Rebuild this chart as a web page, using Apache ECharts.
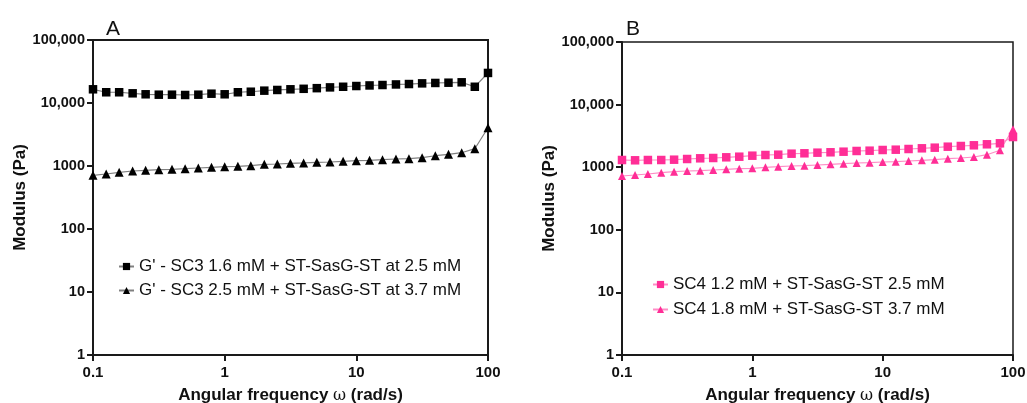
<!DOCTYPE html>
<html>
<head>
<meta charset="utf-8">
<script src="https://cdn.jsdelivr.net/npm/echarts@6/dist/echarts.min.js"></script>
<style>
html,body{margin:0;padding:0;background:#fff;}
#chart{width:1027px;height:403px;}
</style>
</head>
<body>
<div id="chart"></div>
<script>
// Angular frequency (rad/s)
var freq = [0.1, 0.126, 0.158, 0.2, 0.251, 0.316, 0.398, 0.501, 0.631, 0.794,
            1, 1.26, 1.58, 2, 2.51, 3.16, 3.98, 5.01, 6.31, 7.94,
            10, 12.6, 15.8, 20, 25.1, 31.6, 39.8, 50.1, 63.1, 79.4, 100];

// Panel A
var aSquare = [16500, 14800, 14800, 14250, 13750, 13550, 13550, 13400, 13550, 14050,
               13750, 14800, 15100, 15700, 16100, 16500, 16800, 17200, 17700, 18100,
               18600, 19000, 19300, 19700, 20000, 20500, 20800, 21000, 21300, 18100, 30000];
var aTriangle = [711, 747, 794, 833, 855, 874, 887, 907, 929, 953,
                 975, 989, 1011, 1064, 1076, 1104, 1117, 1145, 1157, 1188,
                 1214, 1231, 1259, 1291, 1305, 1354, 1456, 1534, 1626, 1882, 4055];
// Panel B
var bSquare = [1303, 1289, 1303, 1303, 1318, 1352, 1387, 1403, 1439, 1471,
               1527, 1566, 1584, 1644, 1668, 1706, 1731, 1769, 1816, 1836,
               1883, 1904, 1953, 2004, 2050, 2126, 2181, 2238, 2322, 2410, 3035];
var bTriangle = [723, 750, 778, 817, 847, 869, 879, 902, 925, 946,
                 960, 996, 1019, 1045, 1057, 1084, 1112, 1137, 1167, 1180,
                 1211, 1224, 1256, 1289, 1318, 1367, 1403, 1455, 1584, 1862, 4030];

var seriesNames = [
  "G' - SC3 1.6 mM + ST-SasG-ST at 2.5 mM",
  "G' - SC3 2.5 mM + ST-SasG-ST at 3.7 mM",
  "SC4 1.2 mM + ST-SasG-ST 2.5 mM",
  "SC4 1.8 mM + ST-SasG-ST 3.7 mM"
];
var panelTitles = ['A', 'B'];
var xTickLabels = ['0.1', '1', '10', '100'];     // 10^-1 .. 10^2
var yTickLabels = ['1', '10', '100', '1000', '10,000', '100,000']; // 10^0 .. 10^5

function pairs(xs, ys) { return xs.map(function (x, i) { return [x, ys[i]]; }); }

var FONT = 'Liberation Sans, Arial, Helvetica, sans-serif';
var AX = '#1a1a1a';
var PINK = '#FF2E96';
var PINK_LINE = '#FF8CC6';

function xAxisCfg(gi) {
  return {
    type: 'log', logBase: 10, gridIndex: gi, min: 0.1, max: 100,
    name: 'Angular frequency {w|ω} (rad/s)',
    nameLocation: 'middle', nameGap: 32,
    nameTextStyle: { fontFamily: FONT, fontSize: 17, fontWeight: 'bold', color: '#111',
      rich: { w: { fontFamily: 'DejaVu Serif, Liberation Serif, serif', fontSize: 16, fontWeight: 'normal', color: '#111' } } },
    axisLine: { show: true, lineStyle: { color: AX, width: 2 } },
    axisTick: { show: true, length: 6, lineStyle: { color: AX, width: 2 } },
    minorTick: { show: false },
    splitLine: { show: false },
    axisLabel: { margin: 10, fontFamily: FONT, fontSize: 15, fontWeight: 'bold', color: '#111',
      formatter: function (v) { var k = Math.round(Math.log10(v)) + 1; return xTickLabels[k] || ''; } }
  };
}
function yAxisCfg(gi, gap) {
  return {
    type: 'log', logBase: 10, gridIndex: gi, min: 1, max: 100000,
    name: 'Modulus (Pa)', nameLocation: 'middle', nameGap: gap, nameRotate: 90,
    nameTextStyle: { fontFamily: FONT, fontSize: 17, fontWeight: 'bold', color: '#111' },
    axisLine: { show: true, lineStyle: { color: AX, width: 2 } },
    axisTick: { show: true, length: 6, lineStyle: { color: AX, width: 2 } },
    minorTick: { show: false },
    splitLine: { show: false },
    axisLabel: { margin: 8, fontFamily: FONT, fontSize: 14.5, fontWeight: 'bold', color: '#111',
      formatter: function (v) { var k = Math.round(Math.log10(v)); return yTickLabels[k] || ''; } }
  };
}
function lineSeries(name, data, xi, sym, size, color, lineColor) {
  return {
    name: name, type: 'line', xAxisIndex: xi, yAxisIndex: xi, data: data,
    symbol: sym, symbolSize: size, showAllSymbol: true,
    itemStyle: { color: color },
    lineStyle: { color: lineColor, width: 1.2 },
    emphasis: { disabled: true }
  };
}

var chart = echarts.init(document.getElementById('chart'), null, { renderer: 'canvas' });
chart.setOption({
  animation: false,
  backgroundColor: '#fff',
  title: [
    { text: panelTitles[0], left: 101, top: 14, textStyle: { fontFamily: FONT, fontSize: 21, fontWeight: 'normal', color: '#111' } },
    { text: panelTitles[1], left: 621, top: 14, textStyle: { fontFamily: FONT, fontSize: 21, fontWeight: 'normal', color: '#111' } }
  ],
  grid: [
    { left: 93, top: 40, width: 395, height: 315, outerBoundsMode: 'none', containLabel: false,
      show: true, borderColor: AX, borderWidth: 2, backgroundColor: 'transparent' },
    { left: 622, top: 42, width: 391, height: 313, outerBoundsMode: 'none', containLabel: false,
      show: true, borderColor: AX, borderWidth: 1.5, backgroundColor: 'transparent' }
  ],
  xAxis: [xAxisCfg(0), xAxisCfg(1)],
  yAxis: [yAxisCfg(0, 59), yAxisCfg(1, 60)],
  legend: [
    { data: [seriesNames[0], seriesNames[1]], orient: 'vertical', left: 113, top: 253,
      itemWidth: 15, itemHeight: 9, itemGap: 7, selectedMode: false,
      textStyle: { fontFamily: FONT, fontSize: 17, color: '#111', lineHeight: 17 } },
    { data: [seriesNames[2], seriesNames[3]], orient: 'vertical', left: 647, top: 271,
      itemWidth: 15, itemHeight: 9, itemGap: 8, selectedMode: false,
      textStyle: { fontFamily: FONT, fontSize: 17, color: '#111', lineHeight: 17 } }
  ],
  series: [
    lineSeries(seriesNames[0], pairs(freq, aSquare), 0, 'rect', 8.5, '#000', '#808080'),
    lineSeries(seriesNames[1], pairs(freq, aTriangle), 0, 'triangle', 9, '#000', '#808080'),
    lineSeries(seriesNames[2], pairs(freq, bSquare), 1, 'rect', 8.5, PINK, PINK_LINE),
    lineSeries(seriesNames[3], pairs(freq, bTriangle), 1, 'triangle', 8, PINK, PINK_LINE)
  ]
});
</script>
</body>
</html>
